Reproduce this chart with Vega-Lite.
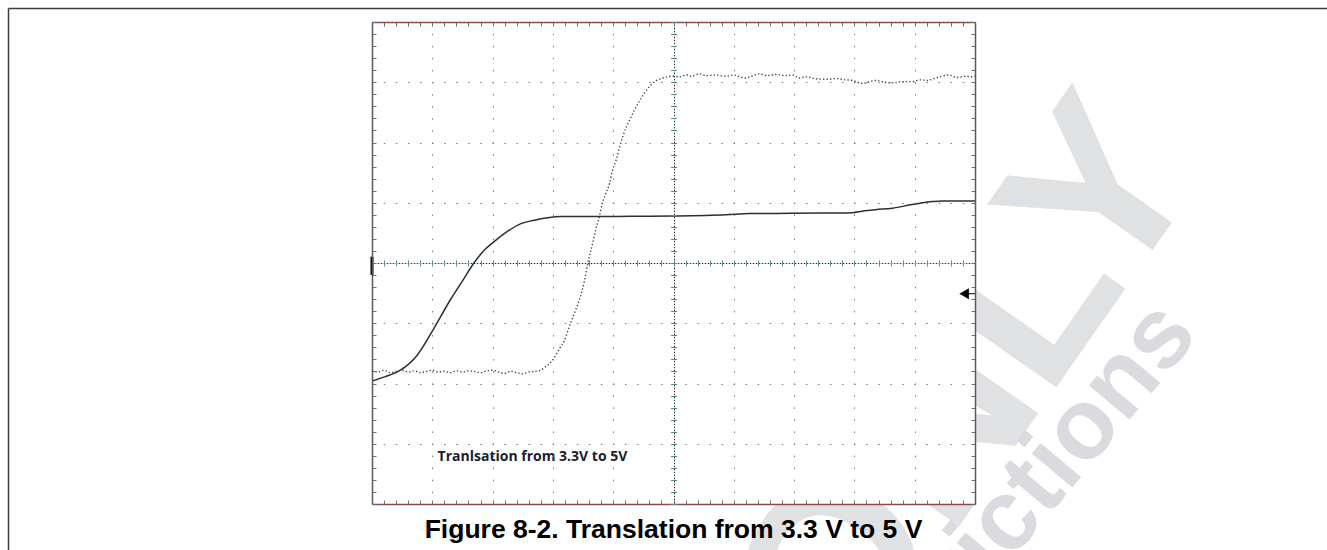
{
  "$schema": "https://vega.github.io/schema/vega-lite/v6.json",
  "width": 603,
  "height": 482,
  "autosize": {"type": "none"},
  "padding": {"left": 372, "top": 22, "right": 352, "bottom": 46},
  "background": "white",
  "config": {"view": {"stroke": null}, "axis": {"labels": false, "title": null}},
  "datasets": {
    "a": [
      {"t": 0, "v": -1.96}, {"t": 0.21, "v": -1.89}, {"t": 0.47, "v": -1.78}, {"t": 0.75, "v": -1.53},
      {"t": 1.03, "v": -1.08}, {"t": 1.3, "v": -0.61}, {"t": 1.53, "v": -0.25}, {"t": 1.69, "v": 0.0},
      {"t": 1.86, "v": 0.21}, {"t": 2.02, "v": 0.35}, {"t": 2.24, "v": 0.52}, {"t": 2.46, "v": 0.65},
      {"t": 2.69, "v": 0.71}, {"t": 2.91, "v": 0.75}, {"t": 3.13, "v": 0.77}, {"t": 3.66, "v": 0.77},
      {"t": 4.3, "v": 0.775}, {"t": 4.985, "v": 0.78}, {"t": 5.87, "v": 0.8}, {"t": 6.26, "v": 0.82},
      {"t": 6.975, "v": 0.825}, {"t": 7.6, "v": 0.83}, {"t": 7.97, "v": 0.835}, {"t": 8.13, "v": 0.86},
      {"t": 8.35, "v": 0.885}, {"t": 8.63, "v": 0.91}, {"t": 8.96, "v": 0.97}, {"t": 9.3, "v": 1.02},
      {"t": 9.46, "v": 1.03}, {"t": 10, "v": 1.03}
    ],
    "b": [
      {"t": 0, "v": -1.79}, {"t": 0.1, "v": -1.81}, {"t": 0.2, "v": -1.78}, {"t": 0.3, "v": -1.82},
      {"t": 0.4, "v": -1.8}, {"t": 0.5, "v": -1.78}, {"t": 0.6, "v": -1.81}, {"t": 0.7, "v": -1.79},
      {"t": 0.8, "v": -1.82}, {"t": 0.9, "v": -1.8}, {"t": 1.0, "v": -1.78}, {"t": 1.1, "v": -1.81},
      {"t": 1.2, "v": -1.8}, {"t": 1.3, "v": -1.82}, {"t": 1.4, "v": -1.79}, {"t": 1.5, "v": -1.81},
      {"t": 1.6, "v": -1.79}, {"t": 1.7, "v": -1.8}, {"t": 1.8, "v": -1.82}, {"t": 1.9, "v": -1.79},
      {"t": 2.0, "v": -1.78}, {"t": 2.1, "v": -1.81}, {"t": 2.2, "v": -1.83}, {"t": 2.3, "v": -1.8},
      {"t": 2.4, "v": -1.82}, {"t": 2.5, "v": -1.84}, {"t": 2.6, "v": -1.81}, {"t": 2.7, "v": -1.8},
      {"t": 2.79, "v": -1.78}, {"t": 2.88, "v": -1.72}, {"t": 2.995, "v": -1.61}, {"t": 3.11, "v": -1.42},
      {"t": 3.19, "v": -1.29}, {"t": 3.27, "v": -1.06}, {"t": 3.355, "v": -0.835}, {"t": 3.44, "v": -0.61},
      {"t": 3.52, "v": -0.31}, {"t": 3.58, "v": 0.0}, {"t": 3.66, "v": 0.33}, {"t": 3.71, "v": 0.55},
      {"t": 3.77, "v": 0.77}, {"t": 3.82, "v": 0.99}, {"t": 3.88, "v": 1.16}, {"t": 3.94, "v": 1.32},
      {"t": 3.99, "v": 1.54}, {"t": 4.05, "v": 1.71}, {"t": 4.1, "v": 1.9}, {"t": 4.16, "v": 2.1},
      {"t": 4.21, "v": 2.24}, {"t": 4.27, "v": 2.37}, {"t": 4.38, "v": 2.59}, {"t": 4.52, "v": 2.82},
      {"t": 4.65, "v": 2.98}, {"t": 4.765, "v": 3.05}, {"t": 4.82, "v": 3.07}, {"t": 4.985, "v": 3.1},
      {"t": 5.1, "v": 3.09}, {"t": 5.21, "v": 3.12}, {"t": 5.3, "v": 3.1}, {"t": 5.43, "v": 3.14},
      {"t": 5.55, "v": 3.11}, {"t": 5.7, "v": 3.12}, {"t": 5.87, "v": 3.1}, {"t": 6.0, "v": 3.12},
      {"t": 6.1, "v": 3.09}, {"t": 6.2, "v": 3.07}, {"t": 6.3, "v": 3.1}, {"t": 6.42, "v": 3.14},
      {"t": 6.55, "v": 3.11}, {"t": 6.7, "v": 3.13}, {"t": 6.85, "v": 3.11}, {"t": 6.975, "v": 3.12},
      {"t": 7.09, "v": 3.07}, {"t": 7.2, "v": 3.09}, {"t": 7.35, "v": 3.06}, {"t": 7.53, "v": 3.05},
      {"t": 7.7, "v": 3.06}, {"t": 7.85, "v": 3.04}, {"t": 7.97, "v": 3.03}, {"t": 8.05, "v": 3.0},
      {"t": 8.14, "v": 2.98}, {"t": 8.25, "v": 3.01}, {"t": 8.36, "v": 3.03}, {"t": 8.5, "v": 3.0},
      {"t": 8.63, "v": 2.99}, {"t": 8.8, "v": 3.01}, {"t": 8.96, "v": 3.01}, {"t": 9.1, "v": 3.04},
      {"t": 9.2, "v": 3.03}, {"t": 9.35, "v": 3.07}, {"t": 9.45, "v": 3.1}, {"t": 9.57, "v": 3.12},
      {"t": 9.7, "v": 3.08}, {"t": 9.85, "v": 3.1}, {"t": 9.96, "v": 3.09}, {"t": 10, "v": 3.1}
    ]
  },
  "layer": [
    {
      "data": {"values": [{}]},
      "mark": {"type": "text", "text": "ONLY", "font": "Liberation Sans", "fontWeight": "bold", "fontSize": 235, "angle": -55, "align": "right", "baseline": "alphabetic", "color": "#e0e1e3"},
      "encoding": {
        "x": {"datum": 13.85, "type": "quantitative", "axis": null},
        "y": {"datum": 1.51, "type": "quantitative", "axis": null}
      }
    },
    {
      "data": {"values": [{}]},
      "mark": {"type": "text", "text": "restrictions", "font": "Liberation Sans", "fontWeight": "bold", "fontSize": 100, "angle": -50, "align": "right", "baseline": "alphabetic", "color": "#dadbde"},
      "encoding": {
        "x": {"datum": 13.73, "type": "quantitative", "axis": null},
        "y": {"datum": -1.2, "type": "quantitative", "axis": null}
      }
    },
    {
      "data": {"values": [{}]},
      "mark": {"type": "rect", "color": "#ffffff"},
      "encoding": {
        "x": {"datum": 0, "type": "quantitative", "axis": null},
        "x2": {"datum": 10},
        "y": {"datum": -4, "type": "quantitative", "axis": null},
        "y2": {"datum": 4}
      }
    },
    {
      "data": {"values": [{}]},
      "mark": {"type": "rule", "color": "#3c3c3c", "strokeWidth": 1.5},
      "encoding": {
        "x": {"datum": -6.028, "type": "quantitative", "axis": null},
        "y": {"datum": 4.224, "type": "quantitative", "axis": null},
        "y2": {"datum": -4.9}
      }
    },
    {
      "data": {"values": [{}]},
      "mark": {"type": "rule", "color": "#3c3c3c", "strokeWidth": 1.5},
      "encoding": {
        "x": {"datum": -6.028, "type": "quantitative", "axis": null},
        "x2": {"datum": 15.95},
        "y": {"datum": 4.224, "type": "quantitative", "axis": null}
      }
    },
    {
      "data": {"name": "a"},
      "mark": {"type": "line", "color": "#2e2e2e", "strokeWidth": 1.5, "interpolate": "monotone"},
      "encoding": {
        "x": {"field": "t", "type": "quantitative", "scale": {"domain": [0, 10], "nice": false, "zero": false},
          "axis": {"orient": "bottom", "zindex": 1, "title": null, "labels": false, "domainColor": "#8b4b4b", "domainWidth": 1.5,
            "values": [0,0.2,0.4,0.6,0.8,1,1.2,1.4,1.6,1.8,2,2.2,2.4,2.6,2.8,3,3.2,3.4,3.6,3.8,4,4.2,4.4,4.6,4.8,5,5.2,5.4,5.6,5.8,6,6.2,6.4,6.6,6.8,7,7.2,7.4,7.6,7.8,8,8.2,8.4,8.6,8.8,9,9.2,9.4,9.6,9.8,10],
            "tickSize": -4, "tickColor": "#707070", "tickWidth": 1,
            "grid": true, "gridWidth": 1, "gridDashOffset": 0.75,
            "gridColor": {"condition": {"test": "abs(datum.value-5)<0.01", "value": "#2a2a2a"}, "value": "#6f8585"},
            "gridDash": {"condition": {"test": "abs(datum.value-5)<0.01", "value": [1.5, 1.5]}, "value": [1.5, 10.55]},
            "gridOpacity": {"condition": {"test": "abs(datum.value-round(datum.value))<0.01 && datum.value>0.01 && datum.value<9.99", "value": 1}, "value": 0}
          }},
        "y": {"field": "v", "type": "quantitative", "scale": {"domain": [-4, 4], "nice": false, "zero": false},
          "axis": {"orient": "left", "zindex": 1, "title": null, "labels": false, "domainColor": "#5a5a5a", "domainWidth": 1.5,
            "values": [-4,-3.8,-3.6,-3.4,-3.2,-3,-2.8,-2.6,-2.4,-2.2,-2,-1.8,-1.6,-1.4,-1.2,-1,-0.8,-0.6,-0.4,-0.2,0,0.2,0.4,0.6,0.8,1,1.2,1.4,1.6,1.8,2,2.2,2.4,2.6,2.8,3,3.2,3.4,3.6,3.8,4],
            "tickSize": -4, "tickColor": "#707070", "tickWidth": 1,
            "grid": true, "gridWidth": 1, "gridDashOffset": 0.75,
            "gridColor": {"condition": {"test": "abs(datum.value)<0.01", "value": "#2a2a2a"}, "value": "#6f8585"},
            "gridDash": {"condition": {"test": "abs(datum.value)<0.01", "value": [1.5, 1.5]}, "value": [1.5, 10.56]},
            "gridOpacity": {"condition": {"test": "abs(datum.value-round(datum.value))<0.01 && abs(datum.value)<3.99", "value": 1}, "value": 0}
          }}
      }
    },
    {
      "data": {"name": "b"},
      "mark": {"type": "line", "color": "#404040", "strokeWidth": 1.4, "strokeDash": [1.3, 2.2], "interpolate": "monotone"},
      "encoding": {
        "x": {"field": "t", "type": "quantitative", "scale": {"domain": [0, 10], "nice": false, "zero": false},
          "axis": {"orient": "top", "zindex": 1, "title": null, "labels": false, "domainColor": "#8b4b4b", "domainWidth": 1.5, "grid": false,
            "values": [0,0.2,0.4,0.6,0.8,1,1.2,1.4,1.6,1.8,2,2.2,2.4,2.6,2.8,3,3.2,3.4,3.6,3.8,4,4.2,4.4,4.6,4.8,5,5.2,5.4,5.6,5.8,6,6.2,6.4,6.6,6.8,7,7.2,7.4,7.6,7.8,8,8.2,8.4,8.6,8.8,9,9.2,9.4,9.6,9.8,10],
            "tickSize": -4, "tickColor": "#707070", "tickWidth": 1}},
        "y": {"field": "v", "type": "quantitative", "scale": {"domain": [-4, 4], "nice": false, "zero": false},
          "axis": {"orient": "right", "zindex": 1, "title": null, "labels": false, "domainColor": "#5a5a5a", "domainWidth": 1.5, "grid": false,
            "values": [-4,-3.8,-3.6,-3.4,-3.2,-3,-2.8,-2.6,-2.4,-2.2,-2,-1.8,-1.6,-1.4,-1.2,-1,-0.8,-0.6,-0.4,-0.2,0,0.2,0.4,0.6,0.8,1,1.2,1.4,1.6,1.8,2,2.2,2.4,2.6,2.8,3,3.2,3.4,3.6,3.8,4],
            "tickSize": -4, "tickColor": "#707070", "tickWidth": 1}}
      }
    },
    {
      "data": {"values": [{}]},
      "mark": {"type": "text", "text": "Tranlsation from 3.3V to 5V", "font": "Open Sans", "fontWeight": "bold", "fontSize": 14, "align": "left", "baseline": "alphabetic", "color": "#1c1c30"},
      "encoding": {
        "x": {"datum": 1.088, "type": "quantitative",
          "axis": {"orient": "bottom", "zindex": 1, "offset": -244, "title": null, "labels": false, "domain": false, "grid": false,
            "values": [0,0.2,0.4,0.6,0.8,1,1.2,1.4,1.6,1.8,2,2.2,2.4,2.6,2.8,3,3.2,3.4,3.6,3.8,4,4.2,4.4,4.6,4.8,5,5.2,5.4,5.6,5.8,6,6.2,6.4,6.6,6.8,7,7.2,7.4,7.6,7.8,8,8.2,8.4,8.6,8.8,9,9.2,9.4,9.6,9.8,10],
            "tickSize": 6, "tickColor": "#5f8888", "tickWidth": 1}},
        "y": {"datum": -3.28, "type": "quantitative",
          "axis": {"orient": "left", "zindex": 1, "offset": -304.5, "title": null, "labels": false, "domain": false, "grid": false,
            "values": [-4,-3.8,-3.6,-3.4,-3.2,-3,-2.8,-2.6,-2.4,-2.2,-2,-1.8,-1.6,-1.4,-1.2,-1,-0.8,-0.6,-0.4,-0.2,0,0.2,0.4,0.6,0.8,1,1.2,1.4,1.6,1.8,2,2.2,2.4,2.6,2.8,3,3.2,3.4,3.6,3.8,4],
            "tickSize": 6, "tickColor": "#5f8888", "tickWidth": 1}}
      }
    },
    {
      "data": {"values": [{}]},
      "mark": {"type": "rule", "color": "#000000", "strokeWidth": 3},
      "encoding": {
        "x": {"datum": 0, "type": "quantitative", "axis": null},
        "y": {"datum": 0.105, "type": "quantitative", "axis": null},
        "y2": {"datum": -0.2}
      }
    },
    {
      "data": {"values": [{}]},
      "mark": {"type": "rule", "color": "#000000", "strokeWidth": 1},
      "encoding": {
        "x": {"datum": 9.85, "type": "quantitative", "axis": null},
        "x2": {"datum": 10},
        "y": {"datum": -0.51, "type": "quantitative", "axis": null}
      }
    },
    {
      "data": {"values": [{}]},
      "mark": {"type": "point", "shape": "triangle-left", "filled": true, "color": "#000000", "size": 120, "opacity": 1},
      "encoding": {
        "x": {"datum": 9.82, "type": "quantitative", "axis": null},
        "y": {"datum": -0.51, "type": "quantitative", "axis": null}
      }
    },
    {
      "data": {"values": [{}]},
      "mark": {"type": "text", "text": "Figure 8-2. Translation from 3.3 V to 5 V", "font": "Liberation Sans", "fontWeight": "bold", "fontSize": 26.5, "align": "center", "baseline": "top", "color": "#000000"},
      "encoding": {
        "x": {"datum": 5, "type": "quantitative", "axis": null},
        "y": {"datum": -4.216, "type": "quantitative", "axis": null}
      }
    }
  ],
  "resolve": {"axis": {"x": "independent", "y": "independent"}}
}
